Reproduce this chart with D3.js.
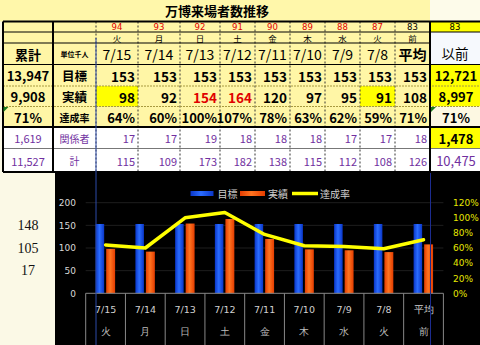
<!DOCTYPE html>
<html>
<head>
<meta charset="utf-8">
<script src="https://cdn.jsdelivr.net/npm/d3@7"></script>
<style>
body{margin:0;background:#fbf9e6;}
svg{display:block;font-family:"Noto Sans CJK JP",sans-serif;}
</style>
</head>
<body>
<svg id="chart" width="480" height="345"></svg>
<script>
// 万博来場者数推移 (単位千人)
var dayNo = [94, 93, 92, 91, 90, 89, 88, 87, 83];
var beforeNo = 83;
var weekdays = ["火", "月", "日", "土", "金", "木", "水", "火", "前"];
var dates = ["7/15", "7/14", "7/13", "7/12", "7/11", "7/10", "7/9", "7/8", "平均"];
var target = [153, 153, 153, 153, 153, 153, 153, 153, 153];
var actual = [98, 92, 154, 164, 120, 97, 95, 91, 108];
var rate = [64, 60, 100, 107, 78, 63, 62, 59, 71];
var staff = [17, 17, 19, 18, 18, 18, 17, 17, 18];
var total = [115, 109, 173, 182, 138, 115, 112, 108, 126];
var rowNames = ["目標", "実績", "達成率", "関係者", "計"];
var cumulative = [13947, 9908, 71, 1619, 11527];
var before = [12721, 8997, 71, 1478, 10475];
var sideNotes = [148, 105, 17];
var marked = [0, 7]; // 実績 cells highlighted yellow

var svg = d3.select("#chart");
var fmt = d3.format(",");
var purple = "#7030a0";

var colX = [3, 53, 96, 138, 180, 220, 255, 290, 325, 360, 395, 430, 480];
var rowY = [21.5, 32, 43, 64.5, 86, 106.5, 127, 148.5, 172];

// ---- backgrounds
svg.append("rect").attr("x", 0).attr("y", 0).attr("width", 430).attr("height", 21.5).attr("fill", "#fff7aa");
svg.append("rect").attr("x", 430).attr("y", 0).attr("width", 50).attr("height", 21.5).attr("fill", "#fdfbea");
svg.append("rect").attr("x", 3).attr("y", rowY[0]).attr("width", 427).attr("height", rowY[6] - rowY[0]).attr("fill", "#fff6a6");
svg.append("rect").attr("x", 3).attr("y", rowY[6]).attr("width", 427).attr("height", rowY[8] - rowY[6]).attr("fill", "#ffffff");
// 以前 column
var prevFill = ["#ffff00", "#f6f9fd", "#f6f9fd", "#ffff00", "#ffff00", "#fdf8e2", "#ffff00", "#ffffff"];
prevFill.forEach(function(c, i){
	svg.append("rect").attr("x", 430).attr("y", rowY[i]).attr("width", 50)
		.attr("height", rowY[i + 1] - rowY[i]).attr("fill", c);
});
marked.forEach(function(i){
	svg.append("rect").attr("x", colX[2 + i]).attr("y", rowY[4]).attr("width", colX[3 + i] - colX[2 + i])
		.attr("height", rowY[5] - rowY[4]).attr("fill", "#ffff00");
});

// title
svg.append("text").attr("x", 217).attr("y", 15.5).attr("text-anchor", "middle")
	.attr("font-size", 13).attr("font-weight", "bold").text("万博来場者数推移");

// ---- grid lines
function hline(y, x1, x2, w, dash, col){
	svg.append("line").attr("x1", x1).attr("x2", x2).attr("y1", y).attr("y2", y)
		.attr("stroke", col || "#000").attr("stroke-width", w).attr("stroke-dasharray", dash || null);
}
function vline(x, y1, y2, w, dash, col){
	svg.append("line").attr("x1", x).attr("x2", x).attr("y1", y1).attr("y2", y2)
		.attr("stroke", col || "#000").attr("stroke-width", w).attr("stroke-dasharray", dash || null);
}
for (var c = 2; c < 11; c++) vline(colX[c], rowY[0], rowY[8], 1, "2,2", "#333");
hline(rowY[1], 3, 480, 1);
hline(rowY[2], 3, 430, 1);
hline(rowY[3], 3, 480, 1);
hline(rowY[4], 3, 480, 1, "2,1", "#a89a40");
hline(rowY[5], 3, 480, 1, "2,1", "#a89a40");
hline(rowY[7], 3, 480, 1, null, "#777");
hline(rowY[6], 3, 480, 2);
hline(rowY[0], 3, 480, 2);
hline(rowY[8], 3, 480, 2);
vline(colX[0], rowY[0], rowY[8], 2);
vline(colX[1], rowY[0], rowY[8], 2);
vline(colX[11], rowY[0], rowY[8], 2);

function cellText(x, y, txt, size, weight, fill, anchor){
	return svg.append("text").attr("x", x).attr("y", y).attr("text-anchor", anchor || "middle")
		.attr("dominant-baseline", "central").attr("font-size", size)
		.attr("font-weight", weight).attr("fill", fill).text(txt);
}
function midY(r){ return (rowY[r] + rowY[r + 1]) / 2 + 0.5; }

// header rows
dayNo.forEach(function(d, i){
	var cx = (colX[2 + i] + colX[3 + i]) / 2;
	cellText(cx, 27, d, 8.5, "normal", i < 8 ? "#e00000" : "#000").attr("font-family", "DejaVu Sans");
	cellText(cx, 38.2, weekdays[i], 8.5, "normal", "#000");
	cellText(cx, midY(2), dates[i], 14, i < 8 ? "normal" : "bold", "#000");
});
cellText(455, 27, beforeNo, 8.5, "normal", "#000").attr("font-family", "DejaVu Sans");
cellText(455, (rowY[1] + rowY[3]) / 2 + 5, "以前", 13.5, "normal", "#000");
cellText(28, midY(2), "累計", 13, "bold", "#000");
cellText(74.5, midY(2), "単位千人", 7, "bold", "#000");

// body rows
var rows = [target, actual, rate, staff, total];
rows.forEach(function(vals, r){
	var big = r < 3;
	var col = big ? "#000" : purple;
	var size = r < 2 ? 13.5 : (r == 2 ? 13 : 11);
	var wt = big ? "bold" : "normal";
	var y = midY(3 + r);
	var cum = r == 2 ? cumulative[r] + "%" : fmt(cumulative[r]);
	cellText(28, y, cum, big ? 13 : 11, wt, col);
	cellText(74.5, y, rowNames[r], r < 2 ? 12.5 : 10, big ? "bold" : "normal", col);
	svg.selectAll(".r" + r).data(vals).enter().append("text")
		.attr("x", function(d, i){ return colX[3 + i] - 3; })
		.attr("y", y).attr("text-anchor", "end").attr("dominant-baseline", "central")
		.attr("font-size", size).attr("font-weight", wt)
		.attr("fill", function(d, i){ return r == 1 && d > target[i] ? "#e00000" : col; })
		.text(function(d){ return r == 2 ? d + "%" : d; });
	var pv = r == 2 ? before[r] + "%" : fmt(before[r]);
	cellText(456, y, pv, 13, r == 4 ? "normal" : "bold", r == 4 ? purple : "#000");
});
[[3.5, rowY[5]], [431, rowY[5]]].forEach(function(p){
	svg.append("path").attr("d", "M" + p[0] + "," + (p[1] + 0.5) + "h5l-5,5z").attr("fill", "#1c7a1c");
});

// ---- chart area
svg.append("rect").attr("x", 55).attr("y", 172.5).attr("width", 425).attr("height", 172.5).attr("fill", "#000");

sideNotes.forEach(function(v, i){
	svg.append("text").attr("x", 28).attr("y", 230 + i * 22.5).attr("text-anchor", "middle")
		.attr("font-family", "Liberation Serif").attr("font-size", 14).attr("fill", "#111").text(v);
});

var x = d3.scaleBand().domain(dates).range([85.7, 443.4]);
var y = d3.scaleLinear().domain([0, 200]).range([293.3, 202.7]);
var yR = d3.scaleLinear().domain([0, 120]).range([293.3, 202.7]);
var bw = x.bandwidth();

var defs = svg.append("defs");
function grad(id, edge, mid){
	var g = defs.append("linearGradient").attr("id", id).attr("x1", 0).attr("x2", 1).attr("y1", 0).attr("y2", 0);
	g.append("stop").attr("offset", "0%").attr("stop-color", edge);
	g.append("stop").attr("offset", "45%").attr("stop-color", mid);
	g.append("stop").attr("offset", "100%").attr("stop-color", edge);
}
grad("gBlue", "#0a36c8", "#2a6cff");
grad("gOrange", "#e43c00", "#ff7420");

// gridlines
svg.append("g").selectAll("line").data([50, 100, 150, 200]).enter().append("line")
	.attr("x1", 85.7).attr("x2", 443.4)
	.attr("y1", function(d){ return y(d); }).attr("y2", function(d){ return y(d); })
	.attr("stroke", "#1e1e1e");

var axL = svg.append("g").attr("transform", "translate(80,0)")
	.call(d3.axisLeft(y).tickValues([0, 50, 100, 150, 200]).tickSize(0).tickPadding(4));
axL.select(".domain").remove();
axL.selectAll("text").attr("fill", "#d8d8d8").attr("font-size", 9).attr("font-family", "DejaVu Sans");

var axR = svg.append("g").attr("transform", "translate(450,0)")
	.call(d3.axisRight(yR).tickValues([0, 20, 40, 60, 80, 100, 120]).tickSize(0).tickPadding(3)
		.tickFormat(function(d){ return d + "%"; }));
axR.select(".domain").remove();
axR.selectAll("text").attr("fill", "#e6e600").attr("font-size", 9).attr("font-family", "DejaVu Sans");

// bars
svg.append("g").selectAll("rect").data(target).enter().append("rect")
	.attr("x", function(d, i){ return x(dates[i]) + bw * 0.25; })
	.attr("width", bw * 0.215)
	.attr("y", function(d){ return y(d); })
	.attr("height", function(d){ return y(0) - y(d); })
	.attr("fill", "url(#gBlue)");
svg.append("g").selectAll("rect").data(actual).enter().append("rect")
	.attr("x", function(d, i){ return x(dates[i]) + bw * 0.515; })
	.attr("width", bw * 0.225)
	.attr("y", function(d){ return y(d); })
	.attr("height", function(d){ return y(0) - y(d); })
	.attr("fill", "url(#gOrange)");

// 達成率 line
var line = d3.line()
	.x(function(d, i){ return x(dates[i]) + bw / 2; })
	.y(function(d){ return yR(d); });
svg.append("path").datum(rate).attr("d", line).attr("fill", "none")
	.attr("stroke", "#ffff00").attr("stroke-width", 3.5)
	.attr("stroke-linejoin", "round").attr("stroke-linecap", "round");

// category boxes
var xa = svg.append("g").attr("transform", "translate(0,298)")
	.call(d3.axisBottom(x).tickSize(0).tickPadding(8));
xa.select(".domain").remove();
xa.selectAll("text").attr("fill", "#d0d0d0").attr("font-size", 9.5).attr("font-family", "DejaVu Sans");
xa.selectAll(".tick").append("text").attr("y", 37).attr("fill", "#bdbdbd")
	.attr("font-size", 9.5).text(function(d, i){ return weekdays[i]; });
hline(y(0), 85.7, 443.4, 1, null, "#888");
dates.concat([null]).forEach(function(d, i){
	var xx = d ? x(d) : 443.4;
	vline(xx, y(0), 345, 1, null, "#888");
});

// legend
var lg = svg.append("g").attr("font-size", 10).attr("fill", "#cfcfcf");
lg.append("rect").attr("x", 190.5).attr("y", 191).attr("width", 23).attr("height", 5).attr("fill", "url(#gBlue)");
lg.append("text").attr("x", 217.5).attr("y", 197.5).text("目標");
lg.append("rect").attr("x", 240).attr("y", 191).attr("width", 25).attr("height", 5).attr("fill", "url(#gOrange)");
lg.append("text").attr("x", 268).attr("y", 197.5).text("実績");
lg.append("line").attr("x1", 292).attr("x2", 318).attr("y1", 193.5).attr("y2", 193.5)
	.attr("stroke", "#ffff00").attr("stroke-width", 3.5);
lg.append("text").attr("x", 320).attr("y", 197.5).text("達成率");

// sheet frame lines
vline(96, 38, 345, 1, null, "#2d4aa8");
vline(430.5, 173, 345, 1, null, "#1c2c90");
</script>
</body>
</html>
